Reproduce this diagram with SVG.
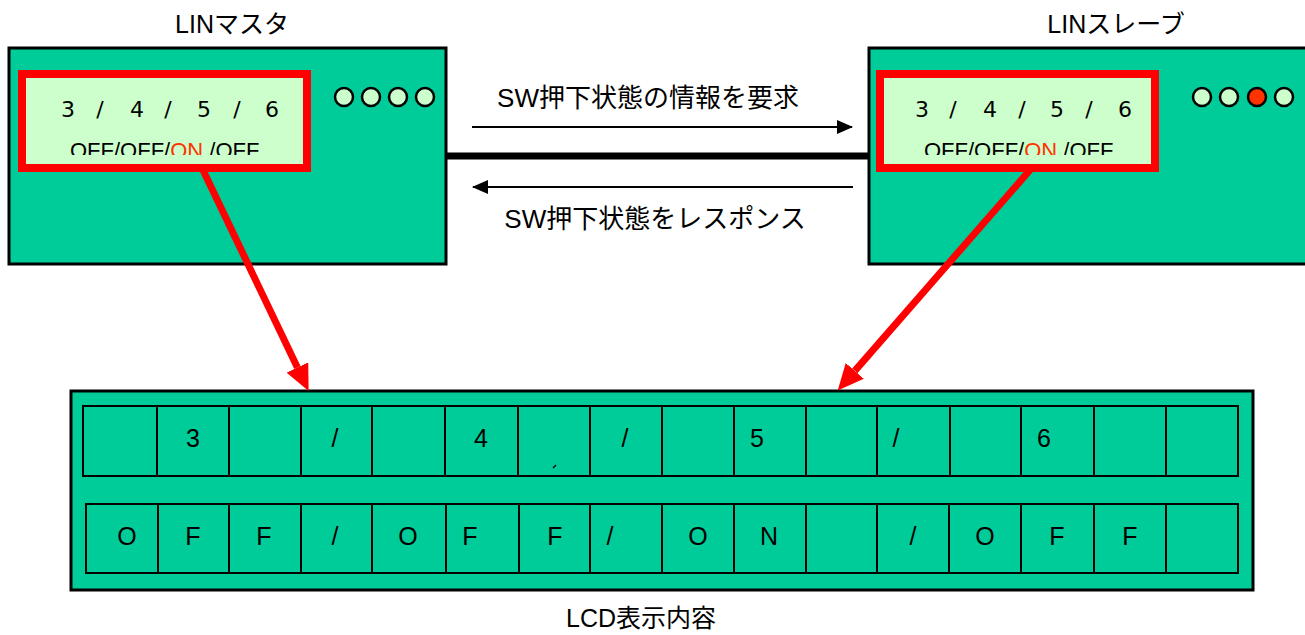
<svg xmlns="http://www.w3.org/2000/svg" width="1305" height="635" viewBox="0 0 1305 635">
<style>
.box{fill:#00CC99;stroke:#000;stroke-width:3}
.disp{fill:#CCFFCC;stroke:#FF0000;stroke-width:8}
.led{fill:#CCFFCC;stroke:#000;stroke-width:2.5}
.cell{fill:#00CC99;stroke:#000;stroke-width:2}
.t{font-family:"Liberation Sans","Noto Sans CJK JP",sans-serif;fill:#000}
.lbl{font-size:25px;text-anchor:middle}
.msg{font-size:26px;text-anchor:middle}
.dig{font-family:"DejaVu Sans","Liberation Sans",sans-serif;font-size:22px;text-anchor:middle;fill:#000}
.sw{font-size:22px}
.on{fill:#FF3300}
.c{font-size:25px;text-anchor:middle}
.blk{stroke:#000;stroke-width:2;fill:none}
.red{stroke:#FF0000;stroke-width:7;fill:none}
</style>
<defs>
<marker id="ah" markerUnits="userSpaceOnUse" markerWidth="16" markerHeight="14" refX="15" refY="7" orient="auto">
<path d="M0,0 L16,7 L0,14 z" fill="#000"/>
</marker>
<marker id="rh" markerUnits="userSpaceOnUse" markerWidth="26" markerHeight="24" refX="0" refY="12" orient="auto">
<path d="M0,0 L26,12 L0,24 z" fill="#FF0000"/>
</marker>
<clipPath id="clipM"><rect x="26" y="78" width="277" height="77"/></clipPath>
<clipPath id="clipS"><rect x="884" y="78" width="267" height="77"/></clipPath>
</defs>
<rect width="1305" height="635" fill="#fff"/>

<g id="master">
<text class="t lbl" x="232" y="33">LINマスタ</text>
<rect class="box" x="9" y="48" width="437" height="216"/>
<rect class="disp" x="22" y="74" width="285" height="94"/>
<text class="dig" x="68 100 137 168 204 237 272" y="117">3/4/5/6</text>
<text class="t sw" x="70" y="158" clip-path="url(#clipM)">OFF/OFF/<tspan class="on">ON</tspan> /OFF</text>
<circle class="led" cx="344" cy="97" r="9"/>
<circle class="led" cx="371" cy="97" r="9"/>
<circle class="led" cx="398" cy="97" r="9"/>
<circle class="led" cx="425" cy="97" r="9"/>
</g>

<g id="slave">
<text class="t lbl" x="1116" y="33">LINスレーブ</text>
<rect class="box" x="869" y="48" width="500" height="216"/>
<rect class="disp" x="880" y="74" width="275" height="94"/>
<text class="dig" x="922 953 990 1022 1057 1089 1125" y="117">3/4/5/6</text>
<text class="t sw" x="924" y="158" clip-path="url(#clipS)">OFF/OFF/<tspan class="on">ON</tspan> /OFF</text>
<circle class="led" cx="1202" cy="97" r="9"/>
<circle class="led" cx="1229" cy="97" r="9"/>
<circle class="led" cx="1257" cy="97" r="9" fill="#FF3300" style="fill:#FF3300"/>
<circle class="led" cx="1284" cy="97" r="9"/>
</g>

<g id="lcd">
<rect class="box" x="71" y="391" width="1182" height="199"/>
<g id="row1">
<rect class="cell" x="83" y="406" width="74" height="70"/>
<rect class="cell" x="157" y="406" width="72" height="70"/>
<rect class="cell" x="229" y="406" width="72" height="70"/>
<rect class="cell" x="301" y="406" width="71" height="70"/>
<rect class="cell" x="372" y="406" width="73" height="70"/>
<rect class="cell" x="445" y="406" width="73" height="70"/>
<rect class="cell" x="518" y="406" width="72" height="70"/>
<rect class="cell" x="590" y="406" width="72" height="70"/>
<rect class="cell" x="662" y="406" width="72" height="70"/>
<rect class="cell" x="734" y="406" width="72" height="70"/>
<rect class="cell" x="806" y="406" width="71" height="70"/>
<rect class="cell" x="877" y="406" width="73" height="70"/>
<rect class="cell" x="950" y="406" width="71" height="70"/>
<rect class="cell" x="1021" y="406" width="73" height="70"/>
<rect class="cell" x="1094" y="406" width="72" height="70"/>
<rect class="cell" x="1166" y="406" width="72" height="70"/>
<text class="t c" x="193" y="447">3</text>
<text class="t c" x="335" y="447">/</text>
<text class="t c" x="481" y="447">4</text>
<path d="M553,468 L556,465" stroke="#000" stroke-width="1.5"/>
<text class="t c" x="625" y="447">/</text>
<text class="t c" x="757" y="447">5</text>
<text class="t c" x="896" y="447">/</text>
<text class="t c" x="1044" y="447">6</text>
</g>
<g id="row2">
<rect class="cell" x="86" y="504" width="72" height="69"/>
<rect class="cell" x="158" y="504" width="71" height="69"/>
<rect class="cell" x="229" y="504" width="72" height="69"/>
<rect class="cell" x="301" y="504" width="71" height="69"/>
<rect class="cell" x="372" y="504" width="74" height="69"/>
<rect class="cell" x="446" y="504" width="73" height="69"/>
<rect class="cell" x="519" y="504" width="71" height="69"/>
<rect class="cell" x="590" y="504" width="72" height="69"/>
<rect class="cell" x="662" y="504" width="72" height="69"/>
<rect class="cell" x="734" y="504" width="72" height="69"/>
<rect class="cell" x="806" y="504" width="71" height="69"/>
<rect class="cell" x="877" y="504" width="72" height="69"/>
<rect class="cell" x="949" y="504" width="72" height="69"/>
<rect class="cell" x="1021" y="504" width="73" height="69"/>
<rect class="cell" x="1094" y="504" width="72" height="69"/>
<rect class="cell" x="1166" y="504" width="72" height="69"/>
<text class="t c" x="127" y="545">O</text>
<text class="t c" x="193" y="545">F</text>
<text class="t c" x="264" y="545">F</text>
<text class="t c" x="335" y="545">/</text>
<text class="t c" x="408" y="545">O</text>
<text class="t c" x="470" y="545">F</text>
<text class="t c" x="555" y="545">F</text>
<text class="t c" x="610" y="545">/</text>
<text class="t c" x="698" y="545">O</text>
<text class="t c" x="769" y="545">N</text>
<text class="t c" x="913" y="545">/</text>
<text class="t c" x="985" y="545">O</text>
<text class="t c" x="1057" y="545">F</text>
<text class="t c" x="1130" y="545">F</text>
</g>
<text class="t lbl" x="641" y="627">LCD表示内容</text>
</g>

<g id="connectors">
<line x1="446" y1="156" x2="869" y2="156" stroke="#000" stroke-width="7"/>
<line class="blk" x1="472" y1="127" x2="852" y2="127" marker-end="url(#ah)"/>
<line class="blk" x1="853" y1="187" x2="473" y2="187" marker-end="url(#ah)"/>
<text class="t msg" x="648" y="107">SW押下状態の情報を要求</text>
<text class="t msg" x="655" y="228">SW押下状態をレスポンス</text>
<line class="red" x1="202" y1="168" x2="297.4" y2="367.5" marker-end="url(#rh)"/>
<line class="red" x1="1030" y1="170" x2="854.8" y2="370.9" marker-end="url(#rh)"/>
</g>
</svg>
